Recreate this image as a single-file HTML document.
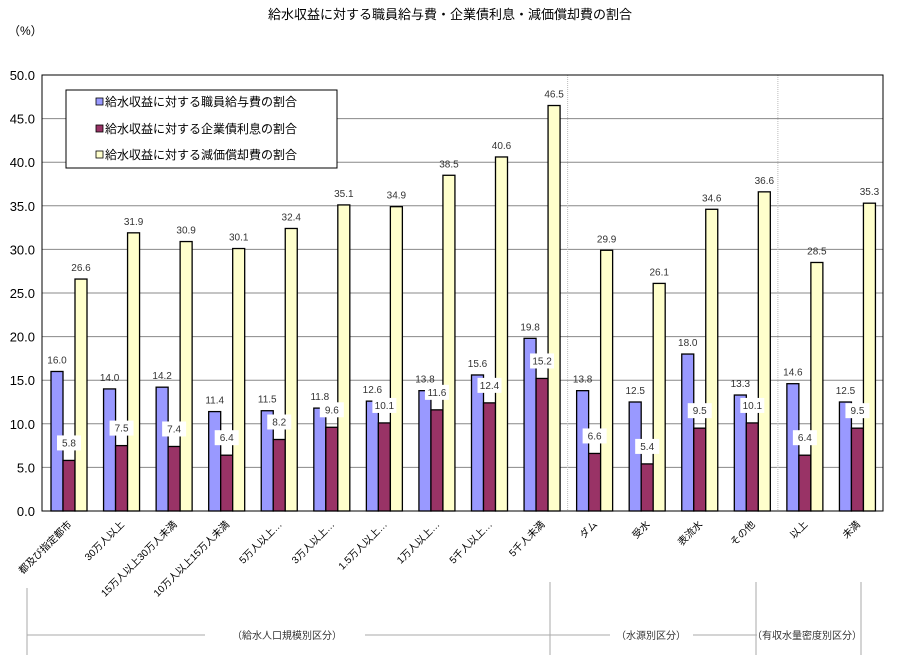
<!DOCTYPE html>
<html><head><meta charset="utf-8">
<style>
body{margin:0;background:#fff;}
svg{display:block;font-family:"Liberation Sans","Noto Sans CJK JP",sans-serif;}
</style></head>
<body>
<svg id="chart" width="900" height="658" viewBox="0 0 900 658" xmlns="http://www.w3.org/2000/svg">
<rect width="900" height="658" fill="#fff"/>
<text x="450" y="19" text-anchor="middle" font-size="13" fill="#000">給水収益に対する職員給与費・企業債利息・減価償却費の割合</text>
<text x="8" y="35" font-size="12" fill="#000">（%）</text>
<g id="grid"></g>
<g id="bars"></g>
<g id="labels"></g>
<g id="yticks"></g>
<g id="xlabels"></g>
<rect x="42" y="75" width="841" height="436" fill="none" stroke="#000" stroke-width="1"/>
<g>
<rect x="66" y="90" width="271" height="78" fill="#fff" stroke="#000"/>
<rect x="96" y="98" width="7" height="7" fill="#9999ff" stroke="#000" stroke-width="0.8"/>
<text x="105" y="106" font-size="12">給水収益に対する職員給与費の割合</text>
<rect x="96" y="125" width="7" height="7" fill="#993366" stroke="#000" stroke-width="0.8"/>
<text x="105" y="133" font-size="12">給水収益に対する企業債利息の割合</text>
<rect x="96" y="151" width="7" height="7" fill="#ffffcc" stroke="#000" stroke-width="0.8"/>
<text x="105" y="159" font-size="12">給水収益に対する減価償却費の割合</text>
</g>
<g stroke="#aaa" stroke-width="1" fill="none">
<line x1="27" y1="588" x2="27" y2="655"/>
<line x1="550" y1="582" x2="550" y2="655"/>
<line x1="756" y1="582" x2="756" y2="655"/>
<line x1="861" y1="582" x2="861" y2="655"/>
<line x1="27" y1="635" x2="205" y2="635"/>
<line x1="365" y1="635" x2="610" y2="635"/>
<line x1="693" y1="635" x2="757" y2="635"/>
</g>
<text x="287" y="639" text-anchor="middle" font-size="10" fill="#333">（給水人口規模別区分）</text>
<text x="651" y="639" text-anchor="middle" font-size="10" fill="#333">（水源別区分）</text>
<text x="807" y="639" text-anchor="middle" font-size="10" fill="#333">（有収水量密度別区分）</text>
</svg>
<script>
const categories=["都及び指定都市","30万人以上","15万人以上30万人未満","10万人以上15万人未満","5万人以上…","3万人以上…","1.5万人以上…","1万人以上…","5千人以上…","5千人未満","ダム","受水","表流水","その他","以上","未満"];
const salary=[16.0,14.0,14.2,11.4,11.5,11.8,12.6,13.8,15.6,19.8,13.8,12.5,18.0,13.3,14.6,12.5];
const interest=[5.8,7.5,7.4,6.4,8.2,9.6,10.1,11.6,12.4,15.2,6.6,5.4,9.5,10.1,6.4,9.5];
const depreciation=[26.6,31.9,30.9,30.1,32.4,35.1,34.9,38.5,40.6,46.5,29.9,26.1,34.6,36.6,28.5,35.3];
const yTicks=[0,5,10,15,20,25,30,35,40,45,50];
const separators=[10,14];

const NS="http://www.w3.org/2000/svg";
const X0=42,X1=883,Y0=511,Y1=75,YMAX=50;
const gw=(X1-X0)/categories.length;
function y(v){return Y0-(v/YMAX)*(Y0-Y1);}
function gx(i){return X0+i*gw;}
function mk(tag,attrs,parent){const e=document.createElementNS(NS,tag);for(const k in attrs)e.setAttribute(k,attrs[k]);parent.appendChild(e);return e;}
const grid=document.getElementById('grid'),bars=document.getElementById('bars'),labels=document.getElementById('labels'),yt=document.getElementById('yticks'),xl=document.getElementById('xlabels');

yTicks.forEach(t=>{
  const l=mk('line',{x1:X0,x2:X1,y1:y(t),y2:y(t),stroke:'#888','stroke-width':1},grid);
  
  
  const tx=mk('text',{x:35,y:y(t)+5,'text-anchor':'end','font-size':13},yt);
  tx.textContent=t.toFixed(1);
  
  
});
separators.forEach(s=>{
  const l=mk('line',{x1:gx(s),x2:gx(s),y1:Y1,y2:Y0,stroke:'#bbb','stroke-dasharray':'1,1'},grid);
  
  
});
const series=[[salary,'#9999ff','salary'],[interest,'#993366','interest'],[depreciation,'#ffffcc','depreciation']];
const bw=12,off=9;
categories.forEach((c,i)=>{
  series.forEach((s,k)=>{
    const v=s[0][i];const bx=gx(i)+off+k*bw;
    const r=mk('rect',{x:bx,y:y(v),width:bw,height:Y0-y(v),fill:s[1],stroke:'#000','stroke-width':1.3},bars);
    
    
    const cx=bx+bw/2;
    let ty=y(v)-8;
    if(k===1){ty=y(v)-14;
      const b=mk('rect',{x:cx-12,y:ty-11,width:24,height:15,fill:'#fff'},labels);
      
      }
    const t=mk('text',{x:cx,y:ty,'text-anchor':'middle','font-size':10,fill:'#333'},labels);
    t.textContent=v.toFixed(1);
    
    
  });
  const cx=gx(i)+gw/2+4;
  const t=mk('text',{x:cx,y:Y0+14,'text-anchor':'end','font-size':10,transform:`rotate(-45 ${cx} ${Y0+14})`},xl);
  t.textContent=c;
  
  
});
</script>
</body></html>
